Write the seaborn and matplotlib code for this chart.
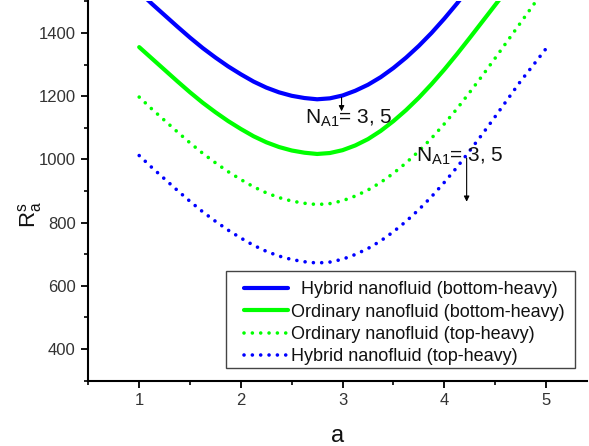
import numpy as np
import pandas as pd
import matplotlib
matplotlib.use("Agg")
import matplotlib.pyplot as plt
import seaborn as sns
from matplotlib.ticker import MultipleLocator
from matplotlib.patches import Rectangle

# wavenumber grid
a_values = [1.0, 1.125, 1.25, 1.375, 1.5, 1.625, 1.75, 1.875, 2.0, 2.125,
            2.25, 2.375, 2.5, 2.625, 2.75, 2.875, 3.0, 3.125, 3.25, 3.375,
            3.5, 3.625, 3.75, 3.875, 4.0, 4.125, 4.25, 4.375, 4.5, 4.625,
            4.75, 4.875, 5.0]

# critical Rayleigh number R_a^s for each configuration
hybrid_bottom = [1530, 1492, 1456, 1420, 1385, 1352, 1322, 1294, 1269, 1246,
                 1227, 1212, 1201, 1194, 1190, 1193, 1202, 1217, 1236, 1260,
                 1289, 1322, 1359, 1400, 1445, 1493, 1545]
ordinary_bottom = [1355, 1319, 1283, 1247, 1212, 1179, 1149, 1121, 1096, 1073,
                   1054, 1039, 1028, 1021, 1017, 1020, 1029, 1044, 1064, 1090,
                   1121, 1156, 1195, 1238, 1284, 1333, 1384, 1436, 1488, 1540]
ordinary_top = [1197, 1159, 1123, 1087, 1052, 1019, 989, 961, 936, 913,
                894, 879, 868, 861, 857, 860, 869, 884, 903, 927,
                956, 989, 1026, 1067, 1112, 1160, 1212, 1265, 1320, 1376,
                1432, 1488, 1544]
hybrid_top = [1012, 974, 938, 902, 867, 834, 804, 776, 751, 728,
              709, 694, 683, 676, 672, 675, 684, 699, 718, 742,
              771, 804, 841, 882, 927, 975, 1027, 1080, 1135, 1191,
              1247, 1298, 1350]

labels = ["  Hybrid nanofluid (bottom-heavy)",
          "Ordinary nanofluid (bottom-heavy)",
          "Ordinary nanofluid (top-heavy)",
          "Hybrid nanofluid (top-heavy)"]

sns.set_style("ticks")
plt.rcParams["font.family"] = ["Liberation Sans", "DejaVu Sans"]
plt.rcParams["mathtext.fontset"] = "custom"
plt.rcParams["mathtext.rm"] = "Liberation Sans"
plt.rcParams["mathtext.it"] = "Liberation Sans"
plt.rcParams["mathtext.bf"] = "Liberation Sans:bold"

fig = plt.figure(figsize=(5.89, 4.46), dpi=100)
ax = fig.add_axes([0.150, 0.1466, 0.846, 0.8505])

blue = "#0000ff"
green = "#00ff00"
dots = (0, (0.01, 2.3))

series = [
    (hybrid_bottom, blue, "-", 3.0),
    (ordinary_bottom, green, "-", 3.0),
    (ordinary_top, green, dots, 2.6),
    (hybrid_top, blue, dots, 2.6),
]
for (vals, color, ls, lw), lab in zip(series, labels):
    df = pd.DataFrame({"a": a_values[:len(vals)], "R": vals})
    sns.lineplot(data=df, x="a", y="R", ax=ax, color=color, linewidth=lw,
                 linestyle=ls, label=lab, solid_capstyle="round",
                 dash_capstyle="round", solid_joinstyle="round")

ax.set_xlim(0.5, 5.4)
ax.set_ylim(300, 1500)
ax.xaxis.set_major_locator(MultipleLocator(1))
ax.xaxis.set_minor_locator(MultipleLocator(0.5))
ax.yaxis.set_major_locator(MultipleLocator(200))
ax.yaxis.set_minor_locator(MultipleLocator(100))
ax.set_yticks([400, 600, 800, 1000, 1200, 1400])

for side in ("top", "right"):
    ax.spines[side].set_visible(False)
for side in ("left", "bottom"):
    ax.spines[side].set_linewidth(1.5)
    ax.spines[side].set_color("black")

ax.tick_params(which="major", direction="out", length=5, width=1.3,
               labelsize=12, labelcolor="#333333", color="black", pad=4)
ax.tick_params(which="minor", direction="out", length=3, width=1.2,
               color="black")

ax.set_xlabel("a", fontsize=17, color="#111111", labelpad=12)
ax.set_ylabel(r"$\mathregular{R_a^s}$", fontsize=16, color="#111111")
ax.yaxis.set_label_coords(-0.089, 0.437)

# annotations for N_A1 variation
ax.annotate("", xy=(2.99, 1152), xytext=(2.99, 1196),
            arrowprops=dict(arrowstyle="-|>", color="black", lw=0.8,
                            mutation_scale=8, shrinkA=0, shrinkB=0))
ax.text(2.63, 1113, r"N$_{\mathregular{A1}}$= 3, 5", fontsize=15,
        color="#111111", va="baseline", ha="left")
ax.annotate("", xy=(4.22, 866), xytext=(4.22, 1004),
            arrowprops=dict(arrowstyle="-|>", color="black", lw=0.8,
                            mutation_scale=8, shrinkA=0, shrinkB=0))
ax.text(3.72, 992, r"N$_{\mathregular{A1}}$= 3, 5", fontsize=15,
        color="#111111", va="baseline", ha="left")

# legend frame drawn as its own box, entries placed inside it
frame = Rectangle((0.2755, 0.0332), 0.7005, 0.2558, transform=ax.transAxes,
                  facecolor="white", edgecolor="#444444", linewidth=1.0,
                  zorder=4)
ax.add_patch(frame)
leg = ax.legend(loc="lower right", bbox_to_anchor=(0.9566, 0.040),
                fontsize=13, frameon=False, handlelength=2.44,
                handletextpad=0.17, labelspacing=0.3, borderpad=0,
                borderaxespad=0)
leg.set_zorder(5)
for t in leg.get_texts():
    t.set_color("#111111")

fig.savefig("out.png", dpi=100)
